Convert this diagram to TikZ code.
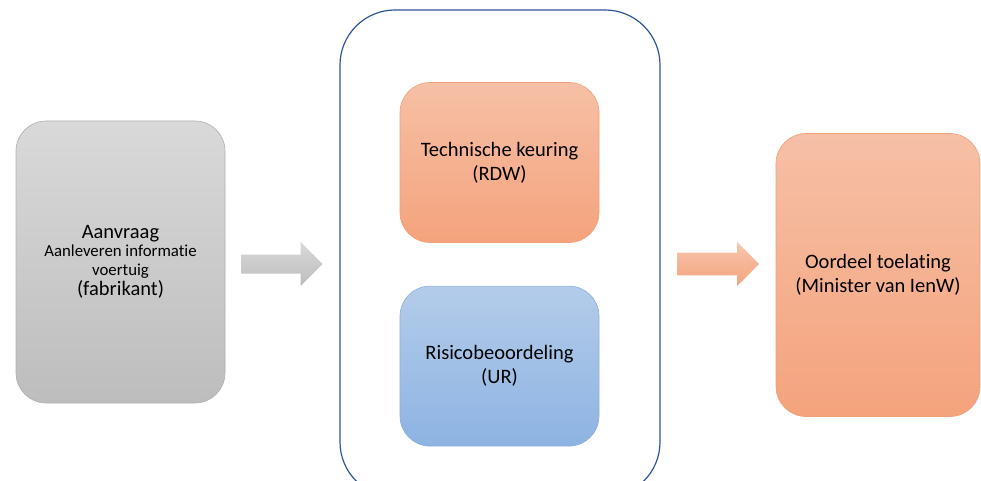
\documentclass[tikz,border=0pt]{standalone}
\usepackage{fontspec}
\setmainfont{Carlito}[Ligatures=CommonOff]
\usetikzlibrary{positioning,shapes.arrows}

\definecolor{grijsboven}{RGB}{217,217,217}
\definecolor{grijsonder}{RGB}{189,189,189}
\definecolor{grijsrand}{RGB}{175,175,175}
\definecolor{oranjeboven}{RGB}{246,192,166}
\definecolor{oranjeonder}{RGB}{244,163,124}
\definecolor{oranjerand}{RGB}{240,160,120}
\definecolor{blauwboven}{RGB}{180,204,234}
\definecolor{blauwonder}{RGB}{141,179,226}
\definecolor{blauwrand}{RGB}{140,175,220}
\definecolor{kaderrand}{RGB}{47,85,151}

\begin{document}
\begin{tikzpicture}[x=1pt, y=-1pt,
  blok/.style={rectangle, rounded corners=30pt, inner sep=0pt, align=center,
    font=\fontsize{20.5}{24}\selectfont, line width=0.6pt},
  grijs/.style={blok, draw=grijsrand, top color=grijsboven, bottom color=grijsonder},
  oranje/.style={blok, draw=oranjerand, top color=oranjeboven, bottom color=oranjeonder},
  blauw/.style={blok, draw=blauwrand, top color=blauwboven, bottom color=blauwonder},
  pijl/.style={single arrow, anchor=tail, inner xsep=0pt, minimum height=81.5pt, minimum width=0pt}]
  \useasboundingbox (0,0) rectangle (981,481);
  \clip (0,0) rectangle (981,481);

  \node[grijs, minimum width=209pt, minimum height=282pt] (aanvraag) at (120.5,262)
    {Aanvraag\\[-6pt]{\fontsize{16.8}{18}\selectfont Aanleveren informatie}\\[-5pt]
     {\fontsize{16.8}{18}\selectfont voertuig}\\[-4pt](fabrikant)};

  \node[draw=kaderrand, line width=1.2pt, rectangle, rounded corners=55pt,
    minimum width=320pt, minimum height=487pt] (kader) at (500,253.5) {};

  \node[oranje, minimum width=199pt, minimum height=160pt] (keuring) at (499.5,162.5)
    {Technische keuring\\(RDW)};
  \node[blauw, minimum width=199pt, minimum height=160pt, below=43pt of keuring] (risico)
    {Risicobeoordeling\\(UR)};

  \node[oranje, minimum width=204pt, minimum height=283pt] (oordeel) at (878,275)
    {Oordeel toelating\\(Minister van IenW)};

  % Pijlen tussen de blokken
  \node[pijl, inner ysep=9.3pt, single arrow head extend=12.5pt,
    top color=grijsboven, bottom color=grijsonder] (pijlin) at (241,264) {};
  \node[pijl, inner ysep=11.1pt, single arrow head extend=10.6pt,
    top color=oranjeboven!90!white, bottom color=oranjeonder] (pijluit) at (677.3,264) {};

\end{tikzpicture}
\end{document}
